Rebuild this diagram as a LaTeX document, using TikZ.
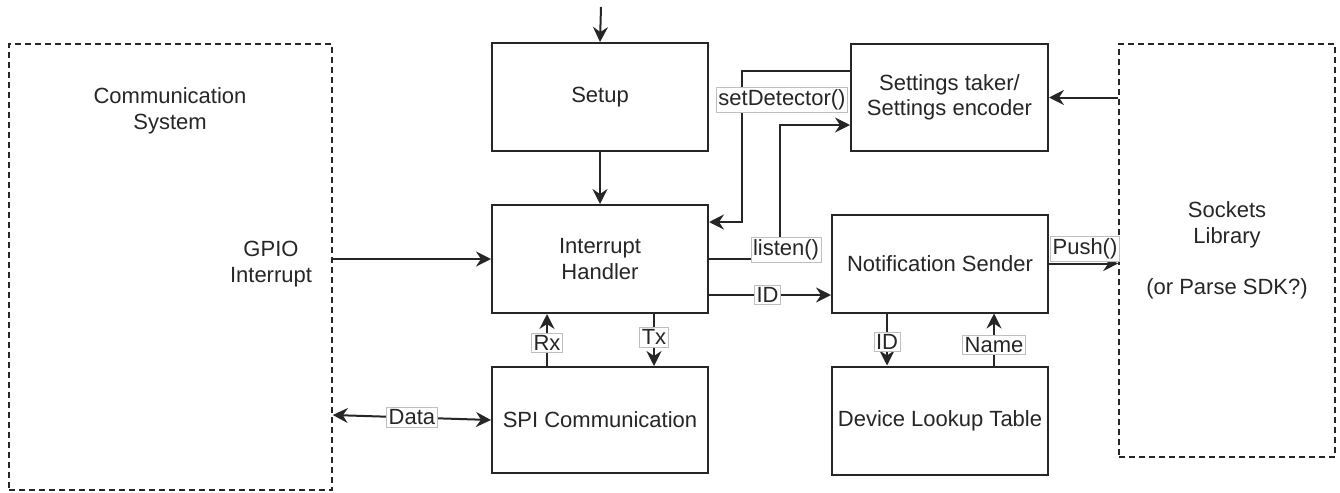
\documentclass[tikz,border=0pt]{standalone}
\usepackage{fontspec}
\setmainfont{Liberation Sans}
\usetikzlibrary{arrows.meta}
\begin{document}
\begin{tikzpicture}[x=0.5pt,y=-0.5pt,
  every node/.style={font=\fontsize{11pt}{12.8pt}\selectfont, text=black!85},
  block/.style={draw=black!85, line width=1pt, fill=white, align=center, inner sep=0pt},
  system/.style={draw=black!85, line width=0.8pt, dash pattern=on 3pt off 2pt, align=center, inner sep=0pt},
  tip/.style={Stealth[length=7.5pt,width=7.5pt,inset=2.5pt]},
  arr/.style={draw=black!85, line width=1pt, -{Stealth[length=7.5pt,width=7.5pt,inset=2.5pt]}},
  arrboth/.style={draw=black!85, line width=1pt, {Stealth[length=7.5pt,width=7.5pt,inset=2.5pt]}-{Stealth[length=7.5pt,width=7.5pt,inset=2.5pt]}},
  lbl/.style={fill=white, draw=black!25, line width=0.4pt, inner sep=1pt, outer sep=0pt}
]
\useasboundingbox (0,0) rectangle (1340,493);

% outer systems
\node[system, minimum width=161.5pt, minimum height=223pt] (comm) at (170.5,267) {};
\node at (170,111) [align=center] (commtxt) {Communication\\System};
\node at (271,264) [align=center] (gpiotxt) {GPIO\\Interrupt};
\node[system, minimum width=108pt, minimum height=206.5pt] (sock) at (1227,250.5)
  {Sockets\\Library\\[12.8pt](or Parse SDK?)};

% processing blocks
\node[block, minimum width=108pt, minimum height=54pt] (setup) at (600,97) {Setup};
\node[block, minimum width=108pt, minimum height=54pt] (handler) at (600,259) {Interrupt\\Handler};
\node[block, minimum width=108pt, minimum height=53pt] (spi) at (600,420) {SPI Communication};
\node[block, minimum width=98.5pt, minimum height=53.5pt] (settings) at (949.5,97.5) {Settings taker/\\Settings encoder};
\node[block, minimum width=108pt, minimum height=49pt] (notif) at (940,263.5) {Notification Sender};
\node[block, minimum width=108pt, minimum height=54pt] (lookup) at (940,420.5) {Device Lookup Table};

% entry into setup
\coordinate (start) at (601,7);
\draw[arr] (start) -- (setup.north);
\draw[arr] (setup.south) -- (handler.north);

% GPIO interrupt and SPI data
\draw[arr] (comm.east |- handler.west) -- (handler.west);
\draw[arrboth] ([yshift=-74pt]comm.east) -- (spi.west) node[lbl, pos=0.5] (datalbl) {Data};

% SPI exchange
\draw[arr] ([xshift=-26.5pt]spi.north) -- ([xshift=-26.5pt]handler.south)
  node[lbl, pos=0.45] (rxlbl) {Rx};
\draw[arr] ([xshift=27pt]handler.south) -- ([xshift=27pt]spi.north)
  node[lbl, pos=0.45] (txlbl) {Tx};

% settings loop
\draw[arr] ([yshift=13.25pt]settings.west) -- ++(-108,0) |- ([yshift=18.5pt]handler.east);
\node[lbl] (setdet) at (782,100) {setDetector()};
\draw[arr] (handler.east) -- ++(71,0) |- ([yshift=-13.75pt]settings.west);
\node[lbl] (listen) at (786,250) {listen()};
\draw[arr] (sock.west |- settings.east) -- (settings.east);

% notification path
\coordinate (idsrc) at ([yshift=-18pt]handler.east);
\draw[arr] (idsrc) -- (idsrc -| notif.west) node[lbl, pos=0.48] (idlbl) {ID};
\draw[arr] (notif.east) -- (notif.east -| sock.west);
\node[lbl] (pushlbl) at (1085,249) {Push()};

% table lookup
\draw[arr] ([xshift=-26.5pt]notif.south) -- ([xshift=-26.5pt]lookup.north)
  node[lbl, pos=0.55] (idlbl2) {ID};
\draw[arr] ([xshift=27pt]lookup.north) -- ([xshift=27pt]notif.south)
  node[lbl, pos=0.4] (namelbl) {Name};
\end{tikzpicture}
\end{document}
